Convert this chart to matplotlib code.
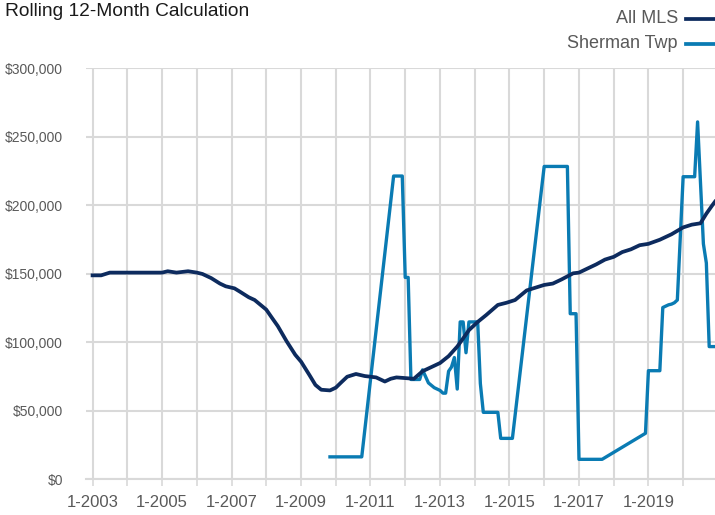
import numpy as np
import matplotlib
matplotlib.use("Agg")
import matplotlib.pyplot as plt
import matplotlib.dates as mdates
from matplotlib.lines import Line2D
from matplotlib.ticker import FuncFormatter, MultipleLocator
import pandas as pd

plt.rcParams['font.family'] = ['Liberation Sans', 'DejaVu Sans']

# All MLS rolling 12-month value
mls_dates = ["2003-01", "2003-04", "2003-07", "2004-01", "2004-07", "2005-01", "2005-03",
             "2005-06", "2005-10", "2006-01", "2006-03", "2006-06", "2006-09", "2006-11",
             "2007-02", "2007-04", "2007-07", "2007-09", "2008-01", "2008-03", "2008-05",
             "2008-08", "2008-11", "2009-01", "2009-04", "2009-06", "2009-08", "2009-11",
             "2010-01", "2010-03", "2010-05", "2010-08", "2010-11", "2011-01", "2011-03",
             "2011-06", "2011-08", "2011-10", "2012-01", "2012-04", "2012-07", "2012-10",
             "2013-01", "2013-04", "2013-07", "2013-09", "2013-11", "2014-02", "2014-05",
             "2014-09", "2014-12", "2015-03", "2015-07", "2015-10", "2016-01", "2016-04",
             "2016-07", "2016-11", "2017-01", "2017-04", "2017-07", "2017-10", "2018-01",
             "2018-04", "2018-07", "2018-10", "2019-01", "2019-05", "2019-09", "2020-01",
             "2020-04", "2020-07", "2020-09", "2020-11", "2020-12"]
mls_values = [149, 149, 151, 151, 151, 151, 152,
              151, 152, 151, 150, 147, 143, 141,
              139.5, 137, 133, 131, 124, 118, 112,
              101, 91, 86, 76, 69, 65.5, 65,
              67, 71, 75, 77, 75.5, 75, 74.5,
              71.5, 73.5, 74.5, 74, 73.5, 79, 82,
              85, 90, 97, 103, 109, 115, 120,
              127.4, 129, 131, 138, 140, 142, 143,
              146, 150.5, 151, 154, 157, 160.5, 162.5,
              166, 168, 171, 172, 175, 179, 184,
              186, 187, 194, 200, 202.8]

# Sherman Twp rolling 12-month value (gaps are joined by the line)
sherman_dates = ["2009-11", "2009-12", "2010-01", "2010-02", "2010-03", "2010-04", "2010-05",
                 "2010-06", "2010-07", "2010-08", "2010-09", "2010-10",
                 "2011-09", "2011-10", "2011-11", "2011-12", "2012-01", "2012-02",
                 "2012-03", "2012-04", "2012-05", "2012-06", "2012-07", "2012-09",
                 "2012-11", "2013-01", "2013-02", "2013-03", "2013-04", "2013-05",
                 "2013-06", "2013-07", "2013-08", "2013-09", "2013-10", "2013-11",
                 "2013-12", "2014-01", "2014-02", "2014-03", "2014-04", "2014-05",
                 "2014-06", "2014-07", "2014-08", "2014-09", "2014-10", "2014-11",
                 "2014-12", "2015-01", "2015-02",
                 "2016-01", "2016-02", "2016-03", "2016-04", "2016-05", "2016-06",
                 "2016-07", "2016-08", "2016-09", "2016-10", "2016-11", "2016-12",
                 "2017-01", "2017-02", "2017-03", "2017-04", "2017-05", "2017-06",
                 "2017-07", "2017-08", "2017-09",
                 "2018-12", "2019-01", "2019-02", "2019-03", "2019-04", "2019-05",
                 "2019-06", "2019-07", "2019-08", "2019-09", "2019-10", "2019-11",
                 "2020-01", "2020-02", "2020-03", "2020-04", "2020-05", "2020-06",
                 "2020-08", "2020-09", "2020-10", "2020-11", "2020-12"]
sherman_values = [16.5, 16.5, 16.5, 16.5, 16.5, 16.5, 16.5,
                  16.5, 16.5, 16.5, 16.5, 16.5,
                  221.5, 221.5, 221.5, 221.5, 147.5, 147.5,
                  73, 73, 73, 73, 80, 70.5,
                  67, 65, 63, 63, 79, 82,
                  89, 66, 115, 115, 92.5, 115,
                  115, 115, 115, 70, 49, 49,
                  49, 49, 49, 49, 30, 30,
                  30, 30, 30,
                  228.5, 228.5, 228.5, 228.5, 228.5, 228.5,
                  228.5, 228.5, 228.5, 121, 121, 121,
                  14.7, 14.7, 14.7, 14.7, 14.7, 14.7,
                  14.7, 14.7, 14.7,
                  33.7, 79.4, 79.4, 79.4, 79.4, 79.4,
                  125.5, 126.5, 127.5, 128, 129, 131,
                  221, 221, 221, 221, 221, 261,
                  172, 158, 97, 97, 97]

navy = "#0d2b5e"
blue = "#0a7bb3"
grid_c = "#d9d9d9"
txt_c = "#595959"

mls_x = pd.to_datetime(mls_dates)
sh_x = pd.to_datetime(sherman_dates)

fig = plt.figure(figsize=(7.15, 5.15), dpi=100)
ax = fig.add_axes([0.1203, 0.069, 0.8797, 0.798])

ax.plot(sh_x, np.array(sherman_values) * 1000, color=blue, lw=2.4, zorder=3)
ax.plot(mls_x, np.array(mls_values) * 1000, color=navy, lw=2.7, zorder=4)

ax.set_ylim(0, 300000)
ax.set_xlim(pd.Timestamp("2002-10-24"), pd.Timestamp("2020-12-01"))
ax.yaxis.set_major_locator(MultipleLocator(50000))
ax.yaxis.set_major_formatter(FuncFormatter(lambda v, p: "${:,.0f}".format(v)))

ax.xaxis.set_major_locator(mdates.YearLocator(1))


def year_label(v, pos):
    d = mdates.num2date(v)
    return "1-%d" % d.year if d.year % 2 == 1 else ""


ax.xaxis.set_major_formatter(FuncFormatter(year_label))

ax.grid(True, color=grid_c, lw=1.5)
ax.set_axisbelow(True)
for s in ["top", "right", "left"]:
    ax.spines[s].set_visible(False)
ax.spines["bottom"].set_color(grid_c)
ax.spines["bottom"].set_linewidth(1.5)
ax.tick_params(axis="x", length=5, width=1.2, color=grid_c, labelsize=12,
               labelcolor=txt_c, pad=6)
ax.tick_params(axis="y", length=0, labelsize=10, labelcolor=txt_c, pad=16.5)

fig.text(0.007, 0.994, "Rolling 12-Month Calculation", ha="left", va="top",
         fontsize=13.8, color="#1a1a1a")

# legend, top right
for label, col, yy in [("All MLS", navy, 0.964), ("Sherman Twp", blue, 0.915)]:
    fig.text(0.948, yy, label, ha="right", va="center", fontsize=13, color=txt_c)
    fig.add_artist(Line2D([0.959, 1.0], [yy, yy], color=col, lw=2.7,
                          transform=fig.transFigure))

fig.savefig("out.png", dpi=100)
